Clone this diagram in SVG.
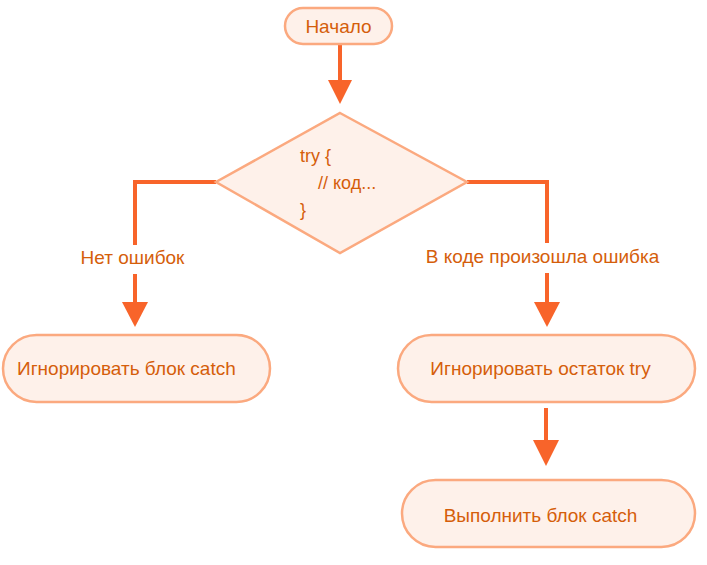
<svg xmlns="http://www.w3.org/2000/svg" width="707" height="565" viewBox="0 0 707 565">
<style>
.node{fill:#FEF1EA;stroke:#FBA97F;stroke-width:2.5}
.t{font-family:"Liberation Sans",Arial,sans-serif;font-size:19px;fill:#D55E0B}
.d{font-size:18px}
.c{fill:none;stroke:#F8642A;stroke-width:4}
.ah{fill:#F8642A}
</style>
<rect width="707" height="565" fill="#fff"/>
<g id="connectors">
<path class="c" d="M340 44V82"/>
<polygon class="ah" points="328,80 352,80 340,104"/>
<path class="c" d="M216 182H135V245"/>
<path class="c" d="M135 274V304"/>
<polygon class="ah" points="122,302 148,302 135,327"/>
<path class="c" d="M467 182H547V243"/>
<path class="c" d="M547 273V304"/>
<polygon class="ah" points="534,302 560,302 547,327"/>
<path class="c" d="M546 408V442"/>
<polygon class="ah" points="533,440 559,440 546,466"/>
<text class="t" x="132.5" y="264" text-anchor="middle">Нет ошибок</text>
<text class="t" x="542.5" y="263" text-anchor="middle">В коде произошла ошибка</text>
</g>
<g id="start">
<rect class="node" x="285" y="8" width="107" height="36" rx="18"/>
<text class="t" x="338.5" y="33" text-anchor="middle">Начало</text>
</g>
<g id="decision">
<polygon class="node" points="340,113 467,182 340,253 216,182"/>
<text class="t d" x="300" y="162">try {</text>
<text class="t d" x="318" y="189">// код...</text>
<text class="t d" x="300" y="216">}</text>
</g>
<g id="ignore-catch">
<rect class="node" x="3" y="335" width="267" height="67" rx="33.5"/>
<text class="t" x="17" y="375">Игнорировать блок catch</text>
</g>
<g id="ignore-try">
<rect class="node" x="398" y="335" width="297" height="67" rx="33.5"/>
<text class="t" x="540.5" y="375" text-anchor="middle">Игнорировать остаток try</text>
</g>
<g id="run-catch">
<rect class="node" x="402" y="480" width="293" height="67" rx="33.5"/>
<text class="t" x="540.5" y="522" text-anchor="middle">Выполнить блок catch</text>
</g>
</svg>
